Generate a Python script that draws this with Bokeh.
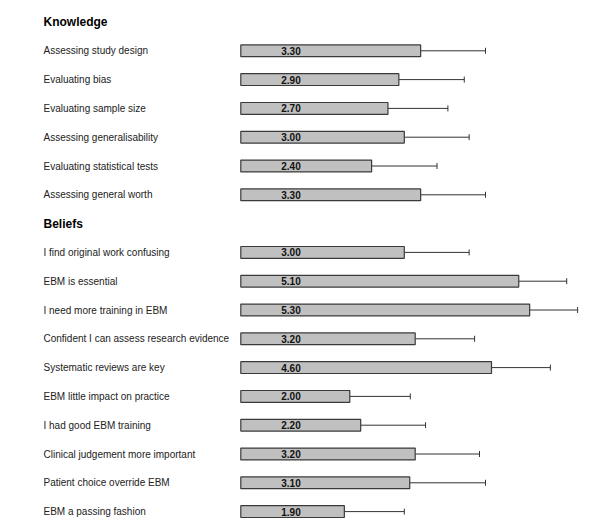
from bokeh.plotting import figure
from bokeh.models import Range1d, ColumnDataSource
from bokeh.core.properties import value
from bokeh.embed import file_html
from bokeh.resources import INLINE

# ---- data ----
sections = ["Knowledge", "Beliefs"]
knowledge_items = ["Assessing study design", "Evaluating bias", "Evaluating sample size",
                   "Assessing generalisability", "Evaluating statistical tests",
                   "Assessing general worth"]
knowledge_means = [3.30, 2.90, 2.70, 3.00, 2.40, 3.30]
knowledge_errs = [1.19, 1.20, 1.10, 1.19, 1.20, 1.19]

beliefs_items = ["I find original work confusing", "EBM is essential",
                 "I need more training in EBM", "Confident I can assess research evidence",
                 "Systematic reviews are key", "EBM little impact on practice",
                 "I had good EBM training", "Clinical judgement more important",
                 "Patient choice override EBM", "EBM a passing fashion"]
beliefs_means = [3.00, 5.10, 5.30, 3.20, 4.60, 2.00, 2.20, 3.20, 3.10, 1.90]
beliefs_errs = [1.19, 0.88, 0.88, 1.09, 1.08, 1.11, 1.19, 1.18, 1.39, 1.10]

# ---- layout ----
W, H = 584, 522
px_per_unit = 54.5
bar_left_px = 240.3
label_px = 43
row_px = 28.8
first_row_px = 21.5

x_start = -bar_left_px / px_per_unit
x_end = (W - bar_left_px) / px_per_unit
label_x = (label_px - bar_left_px) / px_per_unit
val_x = 50.2 / px_per_unit

y_top = -first_row_px / row_px
y_bottom = y_top + H / row_px

rows_lbl, rows_y, means, errs = [], [], [], []
hdr_lbl, hdr_y = [], []
i = 0
for sec, items, m, e in [(sections[0], knowledge_items, knowledge_means, knowledge_errs),
                         (sections[1], beliefs_items, beliefs_means, beliefs_errs)]:
    hdr_lbl.append(sec)
    hdr_y.append(i)
    i += 1
    for lab, mv, ev in zip(items, m, e):
        rows_lbl.append(lab)
        rows_y.append(i)
        means.append(mv)
        errs.append(ev)
        i += 1

src = ColumnDataSource(dict(
    y=rows_y, label=rows_lbl, mean=means,
    hi=[m + e for m, e in zip(means, errs)],
    cap0=[y - 0.104 for y in rows_y], cap1=[y + 0.104 for y in rows_y],
    zero=[0] * len(rows_y),
    lx=[label_x] * len(rows_y), vx=[val_x] * len(rows_y),
    vtxt=[f"{m:.2f}" for m in means],
))
hsrc = ColumnDataSource(dict(y=hdr_y, label=hdr_lbl, lx=[label_x] * len(hdr_y)))

p = figure(width=W, height=H, output_backend="svg", toolbar_location=None,
           x_range=Range1d(x_start, x_end), y_range=Range1d(y_bottom, y_top),
           min_border=0, outline_line_color=None)
p.axis.visible = False
p.grid.visible = False

p.segment(x0="mean", y0="y", x1="hi", y1="y", source=src, line_color="#333333", line_width=1)
p.segment(x0="hi", y0="cap0", x1="hi", y1="cap1", source=src, line_color="#333333", line_width=1)
p.hbar(y="y", left="zero", right="mean", height=0.41, source=src,
       fill_color="#c0c0c0", line_color="#3a3a3a", line_width=1.2)

p.text(x="vx", y="y", text="vtxt", source=src, text_align="center", text_baseline="middle",
       text_font=value("Liberation Sans"), text_font_style="bold", text_font_size="10px",
       text_color="#111111")
p.text(x="lx", y="y", text="label", source=src, text_align="left", text_baseline="middle",
       text_font=value("Liberation Sans"), text_font_size="10px", text_color="#222222")
p.text(x="lx", y="y", text="label", source=hsrc, text_align="left", text_baseline="middle",
       text_font=value("Liberation Sans"), text_font_style="bold", text_font_size="12px",
       text_color="#000000")

open("out.html", "w").write(file_html(p, INLINE))
